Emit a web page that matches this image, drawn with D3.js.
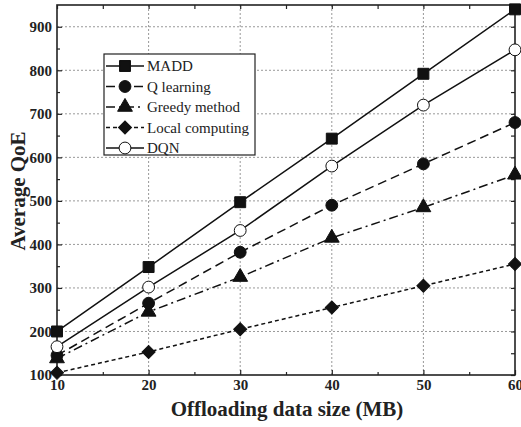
<!DOCTYPE html>
<html>
<head>
<meta charset="utf-8">
<script src="https://cdn.jsdelivr.net/npm/d3@7"></script>
<style>
    body { margin: 0; background: #fff; }
    svg { display: block; }
    text { font-family: "Liberation Serif", "Times New Roman", serif; }
</style>
</head>
<body>
<svg id="chart"></svg>
<script>
(function() {

    // Data
    const dataSizes = [10, 20, 30, 40, 50, 60];
    const madd = [200, 348, 497, 643, 792, 940];
    const qLearning = [145, 265, 382, 490, 585, 680];
    const greedy = [138, 245, 325, 415, 485, 560];
    const localComputing = [105, 153, 205, 255, 305, 355];
    const dqn = [165, 302, 432, 580, 720, 847];

    const xTicks = [10, 20, 30, 40, 50, 60];
    const yTicks = [100, 200, 300, 400, 500, 600, 700, 800, 900];

    const series = [
        {name: 'MADD', values: madd, symbol: 'square', fill: '#111', dash: null},
        {name: 'Q learning', values: qLearning, symbol: 'circle', fill: '#111', dash: '9,5'},
        {name: 'Greedy method', values: greedy, symbol: 'triangle', fill: '#111', dash: '9,4,2,4'},
        {name: 'Local computing', values: localComputing, symbol: 'diamond', fill: '#111', dash: '4,3'},
        {name: 'DQN', values: dqn, symbol: 'circle', fill: '#fff', dash: null}
    ];
    // Series drawn back to front
    const drawOrder = [3, 2, 1, 4, 0];

    const w = 521;
    const h = 427;
    const left = 57, right = 515, top = 5, bottom = 375;

    const scaleX = d3.scaleLinear().domain([10, 60]).range([left, right]);
    const scaleY = d3.scaleLinear().domain([100, 950]).range([bottom, top]);

    const svg = d3.select('#chart')
        .attr('width', w)
        .attr('height', h);

    // Grid
    svg.append('g')
        .selectAll('line')
        .data(xTicks.slice(1, -1))
        .join('line')
        .attr('x1', d => scaleX(d)).attr('x2', d => scaleX(d))
        .attr('y1', top).attr('y2', bottom)
        .attr('stroke', '#999').attr('stroke-width', 1).attr('stroke-dasharray', '2,2');

    svg.append('g')
        .selectAll('line')
        .data(yTicks.slice(1))
        .join('line')
        .attr('x1', left).attr('x2', right)
        .attr('y1', d => scaleY(d)).attr('y2', d => scaleY(d))
        .attr('stroke', '#999').attr('stroke-width', 1).attr('stroke-dasharray', '2,2');

    // Axes (ticks inward)
    const minorX = d3.range(15, 60, 10);
    const minorY = d3.range(150, 950, 100);

    const xAxis = d3.axisBottom(scaleX).tickValues(xTicks).tickSize(-5).tickPadding(4).tickFormat(d3.format('d'));
    const yAxis = d3.axisLeft(scaleY).tickValues(yTicks).tickSize(-5).tickPadding(8).tickFormat(d3.format('d'));

    svg.append('g')
        .attr('transform', `translate(0, ${bottom})`)
        .call(xAxis);
    const gy = svg.append('g')
        .attr('transform', `translate(${left}, 0)`)
        .call(yAxis);

    svg.append('g')
        .attr('transform', `translate(0, ${bottom})`)
        .call(d3.axisBottom(scaleX).tickValues(minorX).tickSize(-3).tickFormat(''));
    svg.append('g')
        .attr('transform', `translate(0, ${top})`)
        .call(d3.axisTop(scaleX).tickValues(xTicks.concat(minorX)).tickSize(-4).tickFormat(''));
    svg.append('g')
        .attr('transform', `translate(${left}, 0)`)
        .call(d3.axisLeft(scaleY).tickValues(minorY).tickSize(-3).tickFormat(''));
    svg.append('g')
        .attr('transform', `translate(${right}, 0)`)
        .call(d3.axisRight(scaleY).tickValues(yTicks.concat(minorY)).tickSize(-4).tickFormat(''));

    svg.selectAll('.domain').remove();
    svg.selectAll('.tick line').attr('stroke', '#222').attr('stroke-width', 1.2);
    svg.selectAll('.tick text')
        .attr('fill', '#222')
        .attr('font-size', 15)
        .attr('font-weight', 'bold')
        .attr('font-family', '"Liberation Serif", serif');
    gy.selectAll('.tick text').attr('dx', 3);

    // Frame
    svg.append('rect')
        .attr('x', left).attr('y', top)
        .attr('width', right - left).attr('height', bottom - top)
        .attr('fill', 'none').attr('stroke', '#222').attr('stroke-width', 1.6);

    // Lines and markers
    const line = d3.line()
        .x((d, i) => scaleX(dataSizes[i]))
        .y(d => scaleY(d));

    const symbols = {
        square: {type: d3.symbolSquare, size: 120, rot: 0},
        circle: {type: d3.symbolCircle, size: 110, rot: 0},
        triangle: {type: d3.symbolTriangle, size: 95, rot: 0},
        diamond: {type: d3.symbolSquare, size: 85, rot: 45}
    };

    const marker = (sel, s) => {
        const m = symbols[s.symbol];
        sel.attr('d', d3.symbol(m.type, m.size))
            .attr('fill', s.fill)
            .attr('stroke', '#111')
            .attr('stroke-width', 1);
        return m.rot;
    };

    drawOrder.forEach(k => {
        const s = series[k];
        svg.append('path')
            .datum(s.values)
            .attr('d', line)
            .attr('fill', 'none')
            .attr('stroke', '#111')
            .attr('stroke-width', 1.5)
            .attr('stroke-dasharray', s.dash);

        const pts = svg.append('g')
            .selectAll('path')
            .data(s.values)
            .join('path');
        const rot = marker(pts, s);
        pts.attr('transform', (d, i) => `translate(${scaleX(dataSizes[i])}, ${scaleY(d)}) rotate(${rot})`);
    });

    // Legend
    const legend = svg.append('g').attr('transform', 'translate(104, 54)');
    legend.append('rect')
        .attr('width', 151).attr('height', 101)
        .attr('fill', '#fff').attr('stroke', '#222').attr('stroke-width', 1.2);

    series.forEach((s, i) => {
        const y = 12 + i * 20.5;
        const row = legend.append('g').attr('transform', `translate(0, ${y})`);
        row.append('line')
            .attr('x1', 2).attr('x2', 40)
            .attr('stroke', '#111').attr('stroke-width', 1.5)
            .attr('stroke-dasharray', s.dash);
        const p = row.append('path');
        const rot = marker(p, s);
        p.attr('transform', `translate(21, 0) rotate(${rot})`);
        row.append('text')
            .attr('x', 43).attr('y', 5)
            .attr('font-size', 15)
            .attr('fill', '#222')
            .text(s.name);
    });

    // Axis titles
    svg.append('text')
        .attr('x', 287).attr('y', 416)
        .attr('text-anchor', 'middle')
        .attr('font-size', 21).attr('font-weight', 'bold').attr('fill', '#222')
        .text('Offloading data size (MB)');

    svg.append('text')
        .attr('transform', `translate(25, 191) rotate(-90)`)
        .attr('text-anchor', 'middle')
        .attr('font-size', 21).attr('font-weight', 'bold').attr('fill', '#222')
        .text('Average QoE');

})();
</script>
</body>
</html>
